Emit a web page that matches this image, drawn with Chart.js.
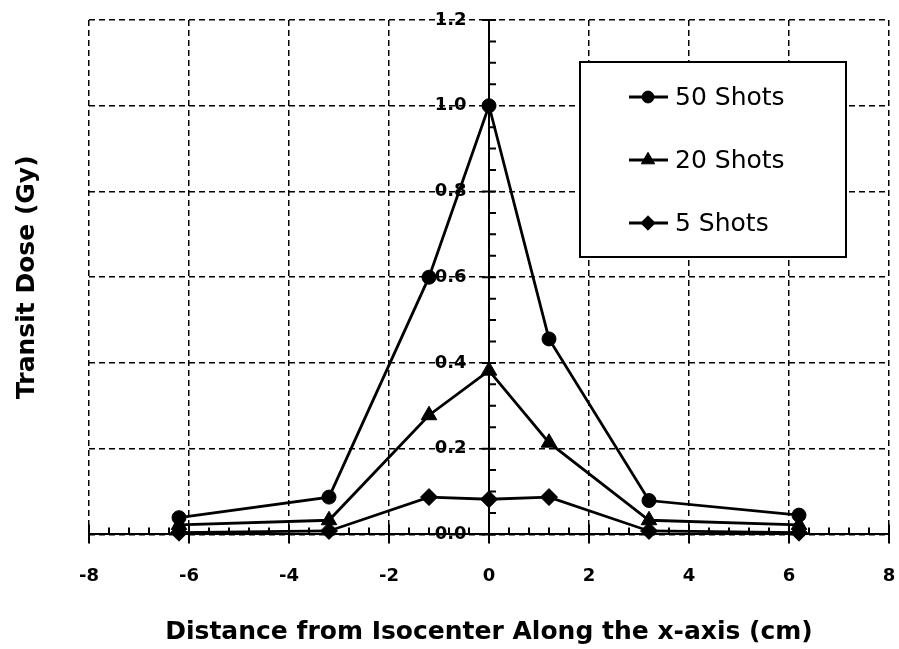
<!DOCTYPE html>
<html>
<head>
<meta charset="utf-8">
<script src="https://cdn.jsdelivr.net/npm/chart.js@4.4.0/dist/chart.umd.min.js"></script>
<style>
html, body { margin: 0; padding: 0; background: #fff; }
</style>
</head>
<body>
<canvas id="myChart" width="899" height="649"></canvas>
<script>
// values
const distances = [-6.2, -3.2, -1.2, 0, 1.2, 3.2, 6.2];
const dose50 = [0.039, 0.087, 0.600, 1.000, 0.456, 0.079, 0.045];
const dose20 = [0.022, 0.033, 0.278, 0.382, 0.214, 0.033, 0.022];
const dose5 = [0.004, 0.008, 0.087, 0.082, 0.087, 0.008, 0.004];
const seriesLabels = ['50 Shots', '20 Shots', '5 Shots'];
const pointStyles = ['circle', 'triangle', 'rectRot'];
const pointSizes = [7, 9, 8.5];
const xTicks = [-8, -6, -4, -2, 0, 2, 4, 6, 8];
const yTicks = [0, 0.2, 0.4, 0.6, 0.8, 1.0, 1.2];

const FONT = 'DejaVu Sans';
const toPoints = (ys) => distances.map((x, i) => ({x: x, y: ys[i]}));

const makeDataset = (i, ys) => ({
    label: seriesLabels[i],
    data: toPoints(ys),
    borderColor: '#000',
    backgroundColor: '#000',
    borderWidth: 2.8,
    pointStyle: pointStyles[i],
    pointRadius: pointSizes[i],
    pointHoverRadius: pointSizes[i],
    pointBackgroundColor: '#000',
    pointBorderColor: '#000',
    pointBorderWidth: 1,
    tension: 0,
    clip: false,
    yAxisID: 'y'
});

// small ticks along both axes (major ones cross, minor ones sit on the inside)
const axisTicks = {
    id: 'axisTicks',
    beforeDatasetsDraw(chart) {
        const {ctx, scales: {x, y}} = chart;
        const x0 = x.getPixelForValue(0);
        const y0 = y.getPixelForValue(0);
        ctx.save();
        ctx.strokeStyle = '#000';
        ctx.lineWidth = 2;
        ctx.beginPath();
        for (let k = -20; k <= 20; k++) {
            const px = x.getPixelForValue(k * 0.4);
            if (k % 5 === 0) { ctx.moveTo(px, y0 - 10); ctx.lineTo(px, y0 + 9); }
            else { ctx.moveTo(px, y0 - 7); ctx.lineTo(px, y0); }
        }
        for (let k = 0; k <= 24; k++) {
            const py = y.getPixelForValue(k * 0.05);
            if (k % 4 === 0) { ctx.moveTo(x0 - 7, py); ctx.lineTo(x0 + 7, py); }
            else { ctx.moveTo(x0, py); ctx.lineTo(x0 + 7, py); }
        }
        ctx.stroke();
        ctx.restore();
    }
};

const boxLegend = {
    id: 'boxLegend',
    afterDatasetsDraw(chart) {
        const {ctx, chartArea} = chart;
        const left = chartArea.right - 309;
        const top = chartArea.top + 42;
        ctx.save();
        ctx.fillStyle = '#fff';
        ctx.fillRect(left, top, 266, 195);
        ctx.strokeStyle = '#000';
        ctx.lineWidth = 2;
        ctx.strokeRect(left, top, 266, 195);
        chart.data.datasets.forEach((ds, i) => {
            const cy = top + 35 + i * 63;
            ctx.strokeStyle = '#000';
            ctx.fillStyle = '#000';
            ctx.lineWidth = 2.8;
            ctx.beginPath();
            ctx.moveTo(left + 49, cy);
            ctx.lineTo(left + 88, cy);
            ctx.stroke();
            ctx.lineWidth = 1;
            Chart.helpers.drawPoint(ctx, {
                pointStyle: ds.pointStyle,
                radius: ds.pointRadius * 0.85,
                borderWidth: 1,
                rotation: 0
            }, left + 68, cy);
            ctx.font = '25px "' + FONT + '"';
            ctx.textAlign = 'left';
            ctx.textBaseline = 'middle';
            ctx.fillText(ds.label, left + 95, cy + 1);
        });
        ctx.restore();
    }
};

const borderStyle = {color: '#000', width: 2, dash: [6, 4]};
const tickFont = {family: FONT, size: 18, weight: 'bold'};
const titleFont = {family: FONT, size: 25, weight: 'bold'};
const clear = 'rgba(0,0,0,0)';

const ctx = document.getElementById('myChart').getContext('2d');
const myChart = new Chart(ctx, {
    type: 'line',
    data: {
        datasets: [
            makeDataset(0, dose50),
            makeDataset(1, dose20),
            makeDataset(2, dose5)
        ]
    },
    options: {
        responsive: false,
        animation: false,
        events: [],
        layout: {padding: {top: 20, right: 10, bottom: 0, left: 0}},
        plugins: {
            legend: {display: false},
            tooltip: {enabled: false}
        },
        scales: {
            x: {
                type: 'linear',
                min: -8,
                max: 8,
                afterBuildTicks: (s) => { s.ticks = xTicks.map(v => ({value: v})); },
                ticks: {color: '#000', font: tickFont, padding: 0, maxRotation: 0, callback: (v) => String(v)},
                grid: {color: '#000', lineWidth: 1.5, drawTicks: true, tickLength: 31, tickColor: clear},
                border: borderStyle,
                title: {
                    display: true,
                    text: 'Distance from Isocenter Along the x-axis (cm)',
                    color: '#000',
                    font: titleFont,
                    padding: {top: 30, bottom: 2}
                }
            },
            y: {
                type: 'linear',
                min: 0,
                max: 1.2,
                position: {x: 0},
                afterBuildTicks: (s) => { s.ticks = yTicks.map(v => ({value: v})); },
                // labels sit right-aligned on the axis, trailing spaces give the gap
                ticks: {color: '#000', font: tickFont, padding: 0, callback: (v) => v.toFixed(1) + '   \u2009'},
                grid: {color: '#000', lineWidth: 1.5, drawTicks: false},
                border: borderStyle
            },
            y2: {
                type: 'linear',
                position: 'left',
                display: true,
                grid: {display: false, drawTicks: false},
                border: {display: false},
                ticks: {display: false},
                title: {
                    display: true,
                    text: 'Transit Dose (Gy)',
                    color: '#000',
                    font: titleFont,
                    padding: {top: 12, bottom: 47}
                }
            }
        }
    },
    plugins: [axisTicks, boxLegend]
});
</script>
</body>
</html>
